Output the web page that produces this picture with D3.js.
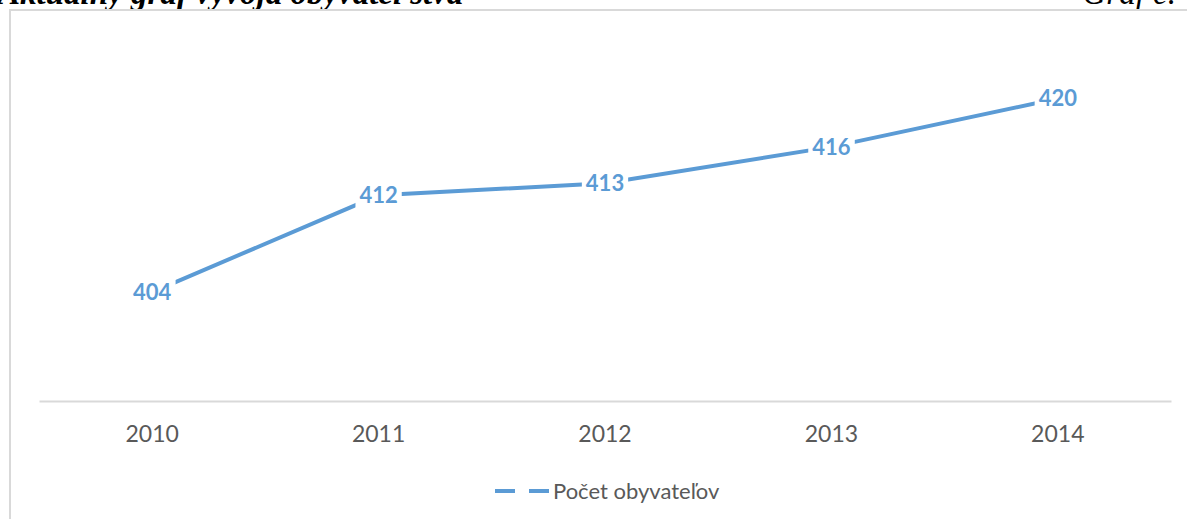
<!DOCTYPE html>
<html>
<head>
<meta charset="utf-8">
<script src="https://cdn.jsdelivr.net/npm/d3@7"></script>
<style>
  body { margin: 0; background: #fff; }
  svg { display: block; }
</style>
</head>
<body>
<div id="container"></div>
<script>
// data
const years = ["2010", "2011", "2012", "2013", "2014"];
const population = [404, 412, 413, 416, 420];
const seriesName = "Počet obyvateľov";
const titleLeft = "Aktuálny graf vývoja obyvateľstva";
const titleRight = "Graf č.";

const width = 1187;
const height = 519;
const blue = "#5B9BD5";
const grey = "#595959";

const svg = d3
  .select("#container")
  .append("svg")
  .attr("width", width)
  .attr("height", height);

// document text above the chart (cut off at the top edge, as in the source)
svg
  .append("text")
  .attr("x", -2)
  .attr("y", 4)
  .style("font-family", "'Liberation Serif', 'Times New Roman', serif")
  .style("font-style", "italic")
  .style("font-weight", "bold")
  .style("font-size", "33px")
  .attr("fill", "#000")
  .text(titleLeft);

svg
  .append("text")
  .attr("x", 1176)
  .attr("y", 4)
  .attr("text-anchor", "end")
  .style("font-family", "'Liberation Serif', 'Times New Roman', serif")
  .style("font-style", "italic")
  .style("font-size", "33px")
  .attr("fill", "#000")
  .text(titleRight);

// chart border
svg
  .append("rect")
  .attr("x", 10)
  .attr("y", 10)
  .attr("width", 1400)
  .attr("height", 700)
  .attr("fill", "none")
  .attr("stroke", "#d9d9d9")
  .attr("stroke-width", 2);

// scales
const xScale = d3.scaleBand().domain(years).range([39, 1171]);
const yScale = d3.scaleLinear().domain([395, 425]).range([401, 38]);
const cx = (d) => xScale(d) + xScale.bandwidth() / 2;

// category axis
const xAxis = svg
  .append("g")
  .attr("transform", `translate(0, 401)`)
  .call(d3.axisBottom(xScale).tickSize(0).tickPadding(25));

xAxis.select(".domain").attr("stroke", "#d9d9d9").attr("stroke-width", 2);
xAxis
  .selectAll("text")
  .style("font-family", "Lato, 'Open Sans', sans-serif")
  .style("font-size", "23px")
  .attr("fill", grey);

// the line
const points = years.map((y, i) => ({ year: y, value: population[i] }));

svg
  .append("path")
  .datum(points)
  .attr("fill", "none")
  .attr("stroke", blue)
  .attr("stroke-width", 4)
  .attr(
    "d",
    d3
      .line()
      .x((d) => cx(d.year))
      .y((d) => yScale(d.value))
  );

// data labels with white background
const labels = svg
  .selectAll(".label")
  .data(points)
  .enter()
  .append("g")
  .attr("class", "label")
  .attr("transform", (d) => `translate(${cx(d.year)}, ${yScale(d.value)})`);

labels
  .append("text")
  .attr("text-anchor", "middle")
  .attr("dy", "0.36em")
  .style("font-family", "Lato, 'Open Sans', sans-serif")
  .style("font-weight", "bold")
  .style("font-size", "22px")
  .attr("fill", blue)
  .text((d) => d.value);

labels.each(function () {
  const g = d3.select(this);
  const b = g.select("text").node().getBBox();
  g.insert("rect", "text")
    .attr("x", b.x - 4)
    .attr("y", b.y - 2)
    .attr("width", b.width + 8)
    .attr("height", b.height + 4)
    .attr("fill", "#fff");
});

// legend
const legend = svg.append("g").attr("transform", "translate(495, 491)");

legend
  .append("line")
  .attr("x1", 0)
  .attr("x2", 54)
  .attr("stroke", blue)
  .attr("stroke-width", 4)
  .attr("stroke-dasharray", "20,14");

legend
  .append("text")
  .attr("x", 58)
  .attr("dy", "0.36em")
  .style("font-family", "Lato, 'Open Sans', sans-serif")
  .style("font-size", "22px")
  .attr("fill", grey)
  .text(seriesName);
</script>
</body>
</html>
